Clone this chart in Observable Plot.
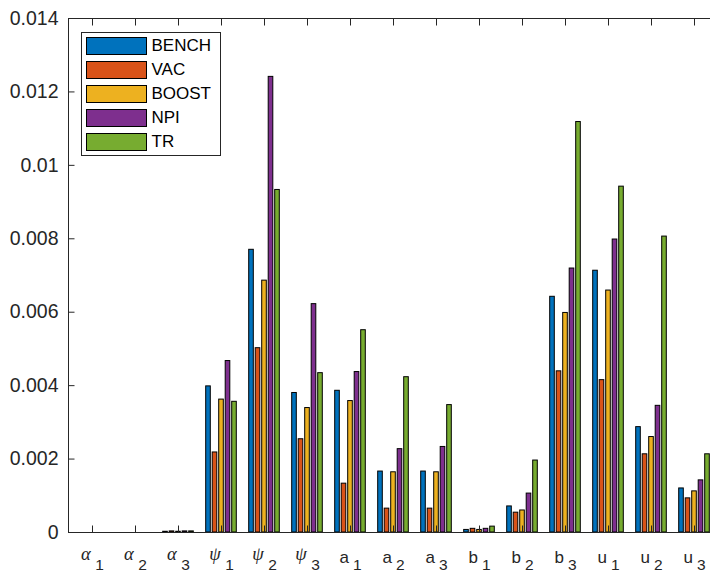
<!DOCTYPE html>
<html>
<head>
<meta charset="utf-8">
<script src="https://cdn.jsdelivr.net/npm/d3@7"></script>
<script src="https://cdn.jsdelivr.net/npm/@observablehq/plot@0.6"></script>
<style>
  html, body { margin: 0; padding: 0; background: #fff; overflow: hidden; width: 710px; height: 575px; }
  #wrap { position: relative; width: 710px; height: 575px; overflow: hidden; }
  #chart svg { max-width: none !important; width: 730px !important; height: 575px !important; display: block; }
  #legend { position: absolute; left: 80.5px; top: 31.5px; width: 140px; height: 124px; box-sizing: border-box;
            border: 1px solid #262626; background: #fff; font-family: "Liberation Sans", Arial, sans-serif; font-size: 17px; color: #000; }
  .sw { position: absolute; left: 4.5px; width: 61px; height: 18px; box-sizing: border-box; border: 1px solid #000; }
  .lt { position: absolute; left: 70px; height: 18px; line-height: 18px; white-space: nowrap; }
</style>
</head>
<body>
<div id="wrap"><div id="chart"></div><div id="legend"></div></div>
<script>
const categories = ["α1","α2","α3","ψ1","ψ2","ψ3","a1","a2","a3","b1","b2","b3","u1","u2","u3"];
const seriesNames = ["BENCH","VAC","BOOST","NPI","TR"];
const seriesColors = ["#0072BD","#D95319","#EDB120","#7E2F8E","#77AC30"];
const BENCH = [0,0,0.00002,0.00398,0.00770,0.00380,0.00386,0.00166,0.00166,0.00007,0.00071,0.00642,0.00713,0.00287,0.00120];
const VAC   = [0,0,0.00003,0.00218,0.00502,0.00254,0.00133,0.00065,0.00065,0.00010,0.00054,0.00439,0.00415,0.00213,0.00093];
const BOOST = [0,0,0.00002,0.00362,0.00686,0.00339,0.00358,0.00164,0.00164,0.00007,0.00060,0.00598,0.00659,0.00260,0.00112];
const NPI   = [0,0,0.00003,0.00467,0.01241,0.00622,0.00437,0.00227,0.00233,0.00010,0.00106,0.00719,0.00798,0.00345,0.00142];
const TR    = [0,0,0.00003,0.00356,0.00933,0.00434,0.00551,0.00423,0.00347,0.00016,0.00196,0.01118,0.00942,0.00806,0.00213];
const seriesValues = [BENCH, VAC, BOOST, NPI, TR];
const yTicks = [0,0.002,0.004,0.006,0.008,0.010,0.012,0.014];

const step = 650 / categories.length;
const barPitch = 6.5;

const barMarks = seriesNames.map((name, i) => {
  const rows = categories.map((c, j) => ({cat: c, value: seriesValues[i][j]}));
  return Plot.barY(rows, {
    x: "cat", y: "value", fill: seriesColors[i], stroke: "#000", strokeWidth: 1,
    dx: (i - 2) * barPitch, insetLeft: 0.7, insetRight: 0.7
  });
});

const plot = Plot.plot({
  width: 730, height: 575,
  marginLeft: 68, marginRight: 12, marginTop: 18, marginBottom: 43,
  style: {fontFamily: "'Liberation Sans', Arial, sans-serif", color: "#262626", background: "#fff", maxWidth: "none"},
  x: {domain: categories, paddingInner: 1 - barPitch / step, paddingOuter: (1 - barPitch / step) / 2, align: 0.5, label: null, axis: null},
  y: {domain: [0, 0.014], label: null, axis: null},
  marks: [
    ...barMarks,
    Plot.frame({stroke: "#262626"}),
    Plot.axisY({ticks: yTicks, tickSize: -6.5, tickPadding: 16.5, fontSize: 19.5, label: null,
      tickFormat: d => d === 0 ? "0" : String(+d.toFixed(3))}),
    Plot.axisX({anchor: "bottom", tickSize: -6.5, tickPadding: 24.5, fontSize: 17, label: null}),
    Plot.axisX({anchor: "top", tickSize: -6.5, tickFormat: () => "", label: null})
  ]
});
document.getElementById("chart").appendChild(plot);

// subscripts on x tick labels
plot.querySelectorAll('g[aria-label="x-axis tick label"] text').forEach(t => {
  const s = t.textContent;
  if (!s) return;
  const base = s.slice(0, -1), sub = s.slice(-1);
  t.textContent = "";
  const ns = "http://www.w3.org/2000/svg";
  const b = document.createElementNS(ns, "tspan");
  b.textContent = base;
  const greek = /[α-ω]/.test(base);
  if (greek) {
    b.setAttribute("font-family", "'Liberation Serif', 'DejaVu Serif', serif");
    b.setAttribute("font-style", "italic");
    b.setAttribute("font-size", "18.5");
    b.setAttribute("dy", "-2.5");
  }
  const sp = document.createElementNS(ns, "tspan");
  sp.textContent = sub;
  sp.setAttribute("dx", greek ? "4.5" : "4");
  sp.setAttribute("dy", greek ? "10" : "7");
  sp.setAttribute("font-size", "15.5");
  t.appendChild(b);
  t.appendChild(sp);
});

// legend
const lg = document.getElementById("legend");
seriesNames.forEach((name, i) => {
  const top = 4.2 + i * 24;
  const sw = document.createElement("div");
  sw.className = "sw";
  sw.style.top = top + "px";
  sw.style.background = seriesColors[i];
  const lt = document.createElement("div");
  lt.className = "lt";
  lt.style.top = top + "px";
  lt.textContent = name;
  lg.appendChild(sw);
  lg.appendChild(lt);
});
</script>
</body>
</html>
